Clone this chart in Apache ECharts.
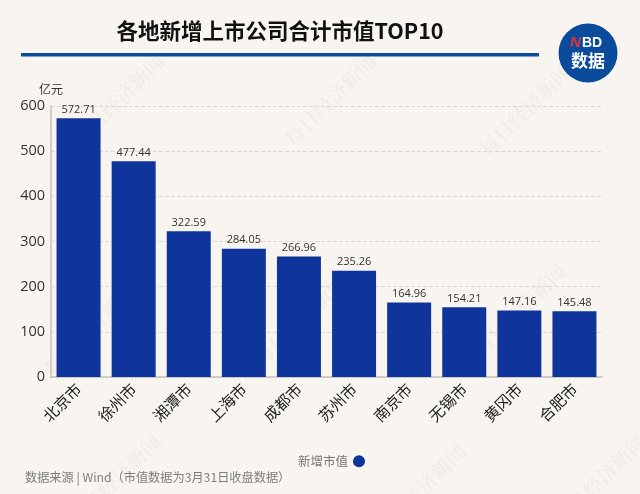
<!DOCTYPE html>
<html><head><meta charset="utf-8">
<script src="https://cdn.jsdelivr.net/npm/echarts@6/dist/echarts.min.js"></script>
<style>html,body{margin:0;padding:0;background:#f8f5f1}#c{width:640px;height:494px}</style>
</head><body><div id="c"></div>
<script>
const categories = ['北京市','徐州市','湘潭市','上海市','成都市','苏州市','南京市','无锡市','黄冈市','合肥市'];
const marketValue = [572.71,477.44,322.59,284.05,266.96,235.26,164.96,154.21,147.16,145.48];
const seriesName = '新增市值';
const titleText = '各地新增上市公司合计市值TOP10';
const sourceText = '数据来源 | Wind（市值数据为3月31日收盘数据）';
const unitText = '亿元';
const watermarkText = '每日经济新闻';
const watermarkSpots = [[118,100],[330,100],[525,110],[90,330],[300,320],[520,310],[115,480],[420,490],[600,480]];
const FONT = '"Noto Sans CJK SC","Noto Sans",sans-serif';
const chart = echarts.init(document.getElementById('c'));
const graphics = watermarkSpots.map(p => ({
  type:'text', x:p[0], y:p[1], rotation:Math.PI/4, z:0, silent:true,
  style:{text:watermarkText, fill:'rgba(120,110,100,0.06)', font:'bold 20px "Noto Serif CJK SC","Noto Sans CJK SC",serif', textAlign:'center', textVerticalAlign:'middle'}
}));
graphics.push(
  {type:'rect', shape:{x:21,y:53,width:518,height:3.5}, style:{fill:'#0b4b9b'}, z:5},
  {type:'circle', shape:{cx:588,cy:53,r:29.5}, style:{fill:'#0b4b9b'}, z:5},
  {type:'text', x:570, y:43, z:6, style:{text:'N', fill:'#e0343f', font:'italic bold 15px Arial,"Liberation Sans",sans-serif', textVerticalAlign:'middle'}},
  {type:'text', x:582, y:43, z:6, style:{text:'BD', fill:'#fff', font:'bold 14px "Liberation Sans",sans-serif', textVerticalAlign:'middle'}},
  {type:'text', x:588, y:61, z:6, style:{text:'数据', fill:'#fff', font:'bold 17px '+FONT, textAlign:'center', textVerticalAlign:'middle'}},
  {type:'text', x:25, y:477, z:6, style:{text:sourceText, fill:'#7d7d7d', font:'12.2px '+FONT, textVerticalAlign:'middle'}}
);
chart.setOption({
  animation:false,
  backgroundColor:'#f8f5f1',
  title:{text:titleText,left:275,top:15,textAlign:'center',textStyle:{fontFamily:FONT,fontSize:21.5,fontWeight:'bold',color:'#111'}},
  grid:{left:51,right:38,top:106,bottom:117},
  legend:{data:[seriesName],left:293,top:450,align:'right',icon:'circle',itemWidth:12,itemHeight:12,itemGap:4,
    textStyle:{fontFamily:FONT,fontSize:12.5,color:'#777',padding:[0,0,0,0]}},
  xAxis:{type:'category',data:categories,
    axisLine:{lineStyle:{color:'#c4c0bb',width:1.5}},axisTick:{show:false},
    axisLabel:{rotate:45,interval:0,margin:9,fontFamily:FONT,fontSize:15.5,color:'#222'}},
  yAxis:{type:'value',min:0,max:600,interval:100,
    name:unitText,nameLocation:'end',nameGap:11,nameTextStyle:{fontFamily:FONT,fontSize:12,color:'#333',align:'right',padding:[0,-12,0,0]},
    axisLine:{show:true,lineStyle:{color:'#c4c0bb',width:1.5}},axisTick:{show:false},
    axisLabel:{margin:6,fontFamily:'"Open Sans",'+FONT,fontSize:14.5,color:'#333'},
    splitLine:{lineStyle:{type:'dashed',color:'#dcd8d3'}}},
  series:[{name:seriesName,type:'bar',data:marketValue,barWidth:44,z:3,
    itemStyle:{color:'#0f349c'},
    label:{show:true,position:'top',distance:3,fontFamily:'"Open Sans",'+FONT,fontSize:11,color:'#333'}}],
  graphic:graphics
});
</script></body></html>
